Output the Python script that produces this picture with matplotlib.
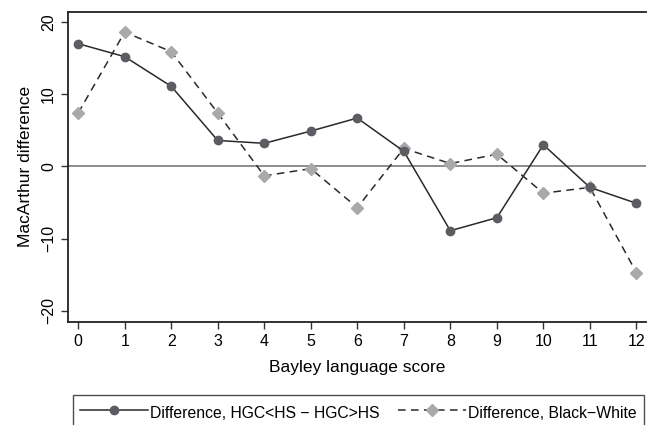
import matplotlib
matplotlib.use('Agg')
from matplotlib import pyplot as plt

plt.rcParams['font.family'] = ['Liberation Sans', 'DejaVu Sans']

scores = list(range(13))
diff_hgc = [17.0, 15.2, 11.1, 3.6, 3.2, 4.9, 6.7, 2.1, -8.9, -7.1, 3.0, -2.9, -5.1]
diff_race = [7.4, 18.6, 15.9, 7.4, -1.3, -0.3, -5.7, 2.5, 0.4, 1.7, -3.7, -2.9, -14.7]
yticks = [-20, -10, 0, 10, 20]

fig = plt.figure(figsize=(6.47, 4.25), dpi=100)
ax = fig.add_axes([0.105, 0.243, 0.893, 0.729])

ax.axhline(0, color='#6e6e6e', lw=1.1, zorder=1)
ax.plot(scores, diff_hgc, '-', color='#2a2a2a', lw=1.1, marker='o', ms=6,
        mfc='#5c5c62', mec='#5c5c62', label='Difference, HGC<HS \u2212 HGC>HS', zorder=3)
ax.plot(scores, diff_race, '--', color='#2a2a2a', lw=1.1, dashes=(5, 3.5), marker='D', ms=6.3,
        mfc='#a9a9a9', mec='#a9a9a9', label='Difference, Black\u2212White', zorder=2)

ax.set_xlim(-0.22, 12.2)
ax.set_ylim(-21.5, 21.4)
ax.set_xticks(scores)
ax.set_yticks(yticks)
ax.set_yticklabels([str(v).replace('-', '\u2212') for v in yticks], rotation=90, va='center')
ax.tick_params(labelsize=11.5, length=5, width=1, color='#333333', direction='out')
ax.spines['right'].set_visible(False)
for s in ('left', 'bottom', 'top'):
    ax.spines[s].set_linewidth(1.3)
    ax.spines[s].set_color('#222222')

ax.set_xlabel('Bayley language score', fontsize=12.5, labelpad=8)
ax.set_ylabel('MacArthur difference', fontsize=12.5, labelpad=6)

leg = fig.legend(loc='upper left', bbox_to_anchor=(0.113, 0.07), ncol=2,
                 fontsize=11.3, handlelength=4.3, handleheight=1.7, handletextpad=0.15,
                 columnspacing=1.2, frameon=True, fancybox=False, borderpad=0.45,
                 borderaxespad=0)
leg.get_frame().set_edgecolor('#222222')
leg.get_frame().set_linewidth(1.0)

fig.savefig('out.png', dpi=100)
